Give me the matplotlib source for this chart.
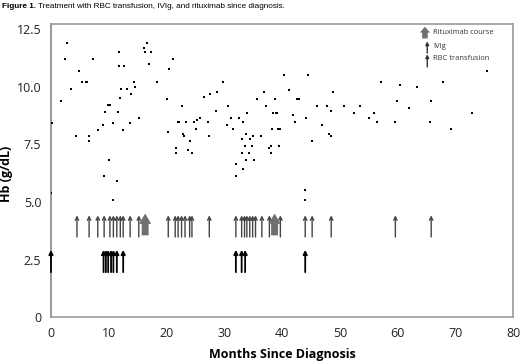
import matplotlib.pyplot as plt
import numpy as np

# Hb measurements: months since diagnosis, Hb (g/dL)
hb_months = [2.8, 16.7, 16.1, 11.7, 16.2, 17.3, 2.5, 7.2, 11.8, 12.7, 17.0, 4.85,
             5.3, 6.0, 6.3, 14.3, 18.4, 3.5, 12.2, 13.1, 14.5, 13.9, 1.8, 12.0,
             9.9, 10.3, 9.4, 11.6, 0.15, 10.8, 13.6, 15.3, 9.0, 8.1, 12.4, 4.4,
             6.6, 6.5, 10.1, 9.2, 11.5, 0.05, 10.8, 21.2,
             20.5, 40.4, 29.7, 28.8, 27.6, 26.5, 20.0, 35.7, 36.9, 38.7, 22.6, 30.6,
             37.3, 28.5, 34.0, 38.4, 38.9, 39.2, 25.8, 25.3, 31.1, 32.5, 21.9, 22.2,
             23.3, 24.7, 27.2, 33.3, 30.4, 20.3, 25.1, 31.5, 38.2, 39.3, 39.6, 33.8,
             22.8, 23.1, 27.4, 35.0, 36.4, 33.1, 34.5, 24.1, 38.0, 21.7, 37.7, 33.6,
             34.8, 39.5, 23.7, 21.6, 24.4, 33.1, 34.3, 38.0, 33.8, 35.2, 32.1, 33.2,
             32.0,
             44.5, 41.2, 42.6, 43.0, 48.8, 57.2, 60.4, 46.0, 47.7, 50.7, 53.4, 48.5,
             41.9, 44.2, 52.5, 55.0, 55.9, 59.8, 42.3, 46.9, 56.4, 59.6, 48.2, 48.5,
             45.1, 44.0, 44.0,
             61.9, 63.4, 65.6, 65.8, 67.9, 69.3, 72.9, 75.5]
hb_values = [11.9, 11.9, 11.7, 11.5, 11.5, 11.5, 11.2, 11.2, 10.9, 10.9, 11.0, 10.7,
             10.2, 10.2, 10.2, 10.2, 10.2, 9.9, 9.9, 9.9, 10.0, 9.7, 9.4, 9.5,
             9.2, 9.2, 8.9, 8.9, 8.45, 8.45, 8.45, 8.67, 8.35, 8.15, 8.15, 7.85,
             7.85, 7.64, 6.83, 6.12, 5.92, 5.4, 5.1, 11.2,
             10.8, 10.5, 10.2, 9.78, 9.68, 9.58, 9.48, 9.48, 9.78, 9.48, 9.17, 9.17,
             9.17, 8.97, 8.87, 8.87, 8.87, 8.87, 8.67, 8.57, 8.67, 8.67, 8.46, 8.46,
             8.46, 8.46, 8.46, 8.46, 8.36, 8.06, 8.16, 8.16, 8.16, 8.16, 8.16, 7.96,
             7.96, 7.86, 7.86, 7.86, 7.86, 7.76, 7.76, 7.65, 7.45, 7.35, 7.35, 7.45,
             7.45, 7.45, 7.25, 7.15, 7.15, 7.15, 7.15, 7.15, 6.84, 6.84, 6.64, 6.44,
             6.13,
             10.5, 9.88, 9.48, 9.48, 9.78, 10.2, 10.1, 9.17, 9.17, 9.17, 9.17, 8.97,
             8.77, 8.67, 8.87, 8.67, 8.87, 9.37, 8.46, 8.36, 8.46, 8.46, 7.96, 7.86,
             7.65, 5.51, 5.1,
             9.07, 9.98, 8.46, 9.37, 10.2, 8.16, 8.87, 10.7]

# treatment times (months)
ivig_months = [4.5, 6.6, 8.1, 9.2, 10.2, 10.8, 11.4, 12.0, 12.5, 13.7, 15.2,
               20.3, 21.5, 22.0, 22.6, 23.2, 24.0, 24.4, 27.4,
               32.0, 33.0, 33.5, 33.9, 34.4, 34.9, 35.4, 36.5, 37.8, 39.7,
               44.0, 45.2, 48.5, 59.6, 65.8]
rbc_months = [0.0, 9.1, 9.5, 9.9, 10.4, 10.8, 11.4, 12.5, 32.0, 33.0, 33.6, 44.0]
rituximab_months = [16.3, 38.7]

plt.rcParams['font.family'] = ['Open Sans', 'DejaVu Sans']

fig = plt.figure(figsize=(5.2, 3.64), dpi=100)
ax = fig.add_axes([0.098, 0.129, 0.889, 0.804])

ax.scatter(hb_months, hb_values, s=3.5, marker='s', color='black', lw=0, zorder=3)

# IVIg arrows (thin, open head)
for m in ivig_months:
    ax.annotate('', xy=(m, 4.42), xytext=(m, 3.48),
                arrowprops=dict(arrowstyle='->', color='#444444', lw=1.0,
                                mutation_scale=6, shrinkA=0, shrinkB=0))
# RBC transfusion arrows (bold, filled head)
for m in rbc_months:
    ax.annotate('', xy=(m, 2.92), xytext=(m, 1.95),
                arrowprops=dict(arrowstyle='-|>', color='black', lw=1.3,
                                mutation_scale=6, shrinkA=0, shrinkB=0))
# rituximab course (fat gray arrow)
for m in rituximab_months:
    ax.arrow(m, 3.55, 0, 0.95, width=1.2, head_width=2.1, head_length=0.45,
             length_includes_head=True, fc='#707070', ec='none', zorder=4)

# legend drawn by hand in axes fraction
tr = ax.transAxes
ax.arrow(0.809, 0.952, 0, 0.04, width=0.012, head_width=0.022, head_length=0.02,
         length_includes_head=True, fc='#707070', ec='none', transform=tr)
ax.annotate('', xy=(0.814, 0.942), xytext=(0.814, 0.902), xycoords=tr,
            arrowprops=dict(arrowstyle='-|>', color='#333333', lw=1.0,
                            mutation_scale=5, shrinkA=0, shrinkB=0))
ax.annotate('', xy=(0.814, 0.898), xytext=(0.814, 0.855), xycoords=tr,
            arrowprops=dict(arrowstyle='-|>', color='#333333', lw=1.0,
                            mutation_scale=5, shrinkA=0, shrinkB=0))
ax.text(0.826, 0.972, 'Rituximab course', transform=tr, fontsize=5.4,
        va='center', color='#333333')
ax.text(0.826, 0.924, 'IVIg', transform=tr, fontsize=5.4, va='center', color='#333333')
ax.text(0.826, 0.882, 'RBC transfusion', transform=tr, fontsize=5.4,
        va='center', color='#333333')

ax.set_xlim(0, 80)
ax.set_ylim(0, 12.72)
ax.set_xticks(np.arange(0, 81, 10))
ax.set_yticks([0, 2.5, 5.0, 7.5, 10.0, 12.5])
ax.set_yticklabels(['0', '2.5', '5.0', '7.5', '10.0', '12.5'])
ax.tick_params(length=0, labelsize=9, labelcolor='#222222', pad=7)
for s in ax.spines.values():
    s.set_color('#9a9a9a')
    s.set_linewidth(1.2)
ax.spines['left'].set_color('#888888')

ax.set_ylabel('Hb (g/dL)', fontsize=9, fontweight='bold')
ax.yaxis.set_label_coords(-0.082, 0.49)
ax.set_xlabel('Months Since Diagnosis', fontsize=9, fontweight='bold')
ax.xaxis.set_label_coords(0.5, -0.105)

# caption
t1 = fig.text(0.004, 0.982, 'Figure 1.', fontsize=5.9, fontweight='bold',
              family=['Liberation Sans', 'DejaVu Sans'], va='center')
fig.canvas.draw()
bb = t1.get_window_extent()
fig.text(bb.x1 / fig.bbox.width + 0.004, 0.982,
         'Treatment with RBC transfusion, IVIg, and rituximab since diagnosis.',
         fontsize=5.9, family=['Liberation Sans', 'DejaVu Sans'], va='center')

fig.savefig('out.png', dpi=100)
